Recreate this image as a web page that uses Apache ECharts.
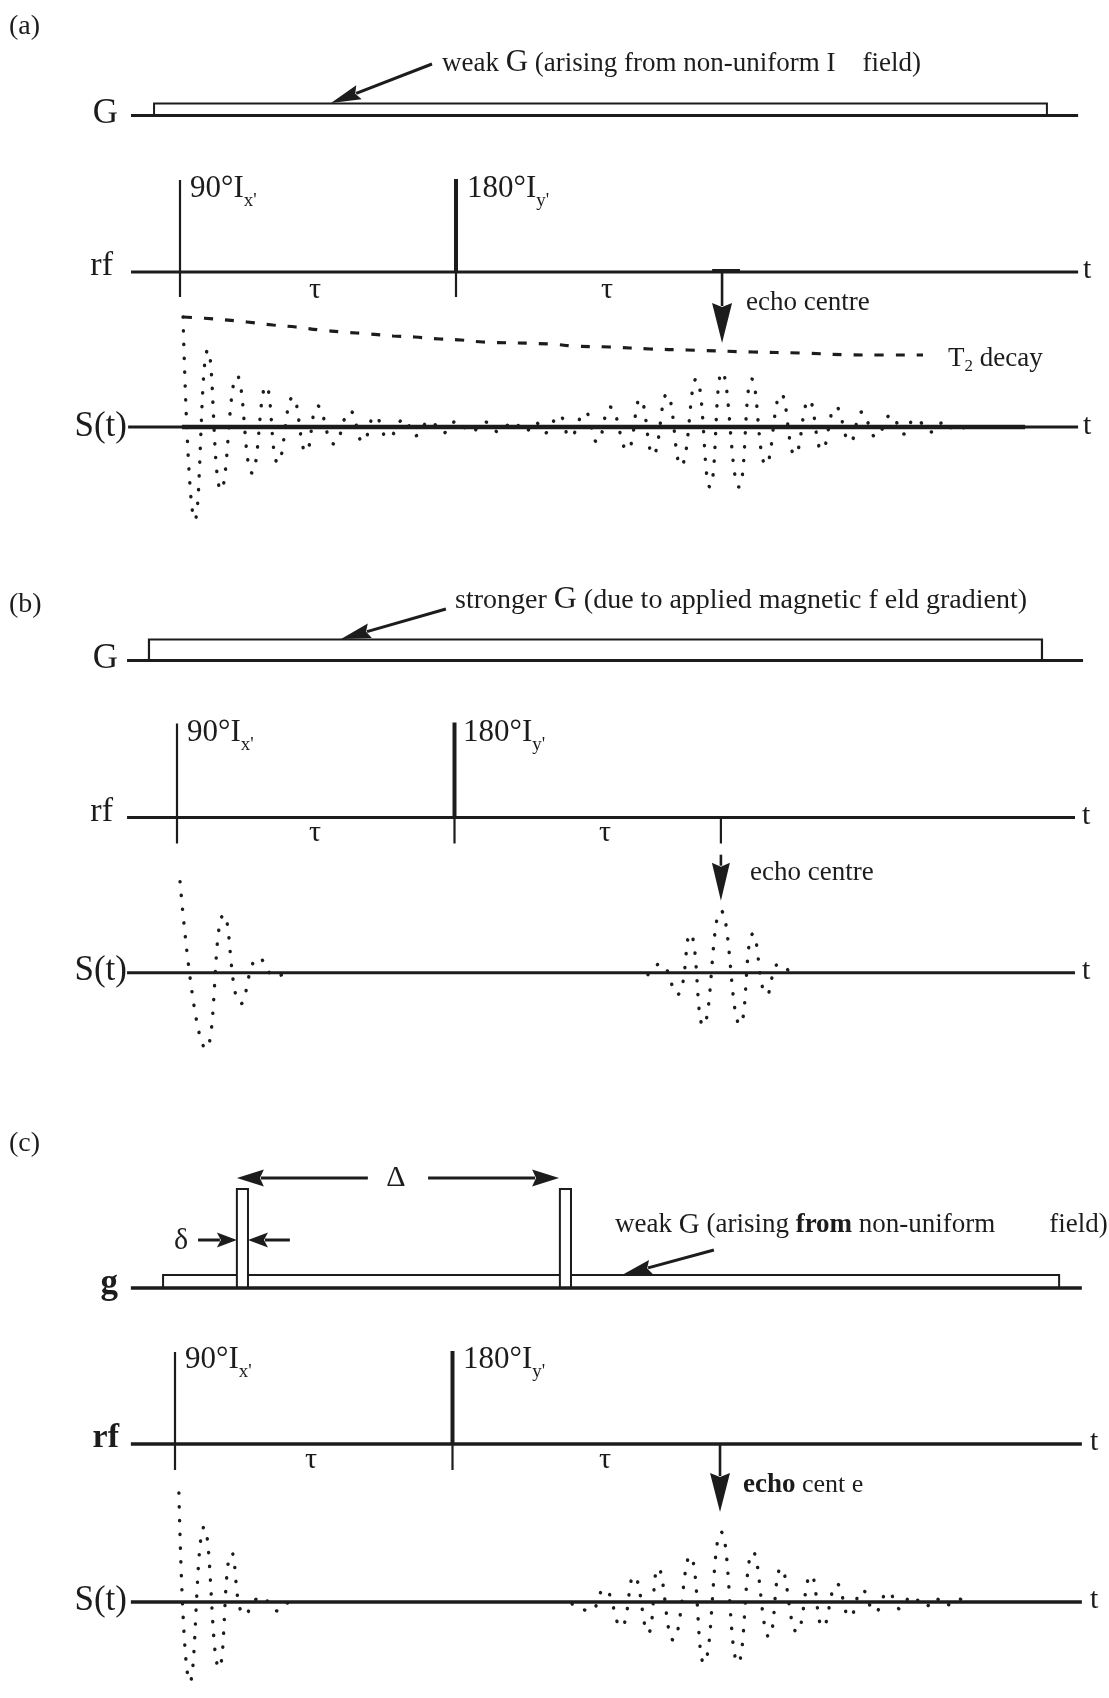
<!DOCTYPE html>
<html><head><meta charset="utf-8">
<script src="https://cdn.jsdelivr.net/npm/echarts@6/dist/echarts.min.js"></script>
<style>html,body{margin:0;padding:0;background:#fff}#chart{width:1109px;height:1698px}</style>
</head><body><div id="chart"></div>
<script>
// ================= DATA =================
// time axis: 90° pulse at t = 0, 180° pulse at t = τ = 100 (arbitrary units); amplitudes in arbitrary units
const rfPulseTimes = [0, 100];                       // 90°x' , 180°y'
const rfPulseHeightA = [92, 93];
const rfPulseHeightB = [94, 95];
const rfPulseHeightC = [92, 93];
const echoTimes = [196.4, 196.0, 196.4];             // echo centre in (a), (b), (c)
// gradient pulses: [on, off, amplitude]
const gradA = [[-9.4, 314.1, 12]];                   // weak G
const gradB = [[-10.1, 311.7, 21]];                  // stronger G
const gradCweak = [[-4.3, 318.6, 13]];               // weak G
const gradCpulses = [[22.3, 26.3, 99], [138.7, 142.7, 99]]; // δ-wide pulses, Δ apart
// T2 decay envelope (a)
const t2Decay = [[1.1,110],[12.7,108],[24.3,105],[33.7,102],[42.0,100],[50.7,97],[59.1,95],[68.8,93],[77.2,91],[85.1,90],[94.2,88],[101.8,87],[109.8,85],[134.4,83],[142.4,81],[155.8,80],[170.3,78],[183.7,77],[207.6,75],[224.6,74],[247.5,72],[269.2,72]];
// S(t) signals (peaks / troughs)
const sigA = [[1.1,110],[5.4,-93],[10.1,77],[14.9,-63],[20.7,51],[26.1,-46],[31.2,41],[35.5,-36],[40.9,30],[45.7,-25],[50.0,21],[55.8,-17],[61.6,16],[66.3,-15],[70.7,11],[75.4,-11],[81.2,8],[85.1,-9],[90.6,6],[95.3,-6],[100.4,6],[105.4,-5],[110.5,5],[115.6,-5],[120.7,5],[125.0,-5],[128.6,5],[132.2,-6],[137.3,12],[141.3,-10],[146.7,15],[151.1,-15],[155.8,20],[162.0,-23],[166.7,28],[171.4,-28],[176.4,33],[181.5,-39],[187.0,48],[192.0,-60],[196.4,55],[202.5,-60],[207.2,48],[212.3,-38],[217.8,33],[222.8,-28],[227.9,27],[232.6,-23],[237.7,20],[242.8,-15],[247.1,15],[252.2,-10],[257.6,12],[262.3,-7],[266.3,8],[272.5,-5],[277.2,6],[280.8,-3],[284.4,0]];
const sigBfid = [[1.1,91],[10.5,-76],[16.9,58],[23.1,-31],[29.5,15],[35.7,-4],[38.9,0]];
const sigBecho = [[169.7,-2],[174.1,9],[180.2,-22],[184.9,39],[189.6,-53],[196.0,62],[202.9,-52],[207.6,39],[212.6,-22],[217.0,9],[221.6,-2]];
const sigCfid = [[1.4,109],[5.4,-80],[10.5,75],[15.9,-66],[20.5,49],[25.2,-13],[31.0,5],[37.1,-9],[40.7,0]];
const sigCecho = [[143.1,-2],[149.5,-9],[154.6,13],[160.7,-25],[165.4,26],[170.5,-31],[174.1,34],[179.5,-38],[185.6,46],[190.6,-61],[196.8,70],[202.9,-61],[208.3,50],[214.1,-35],[218.4,34],[224.1,-30],[229.2,27],[233.5,-25],[238.6,18],[243.2,-15],[247.7,12],[252.3,-10],[257.0,10],[261.3,-7],[265.6,6],[270.3,-5],[273.9,4],[277.5,-4],[281.8,3],[286.5,0]];
// time-line extents [start, end]
const extA = {G:[-17.75,325.4], rf:[-17.75,325.4], S:[-18.8,325.4], Sthick:[0.7,306.2]};
const extB = {G:[-18,326.5], rf:[-18,323.6], S:[-18,323.6]};
const extC = {G:[-15.9,326.8], rf:[-15.9,326.8], S:[-15.9,326.8]};

// ================= LAYOUT =================
const INK = '#1c1c1c';
const W = 1109;
const FONT = '"Liberation Serif", "Times New Roman", serif';
const layout = [
  {x90:180, tauPx:276,   G:115.5, rf:272,   S:427,    ranges:{G:[-20,110], rf:[-40,110], S:[-130,170]}},
  {x90:177, tauPx:277.5, G:660.5, rf:817.5, S:972.7,  ranges:{G:[-20,110], rf:[-40,110], S:[-130,170]}},
  {x90:175, tauPx:277.5, G:1288,  rf:1444,  S:1602,   ranges:{G:[-20,110], rf:[-40,110], S:[-90,165]}}
];
const rows = ['G','rf','S'];
const grid=[], xAxis=[], yAxis=[];
layout.forEach((L,p)=>{
  rows.forEach((r,k)=>{
    const [lo,hi]=L.ranges[r];
    grid.push({left:0, width:W, top:L[r]-hi, height:hi-lo, show:false});
    xAxis.push({type:'value', gridIndex:p*3+k, min:-L.x90/L.tauPx*100, max:(W-L.x90)/L.tauPx*100, show:false});
    yAxis.push({type:'value', gridIndex:p*3+k, min:lo, max:hi, show:false});
  });
});
const gi = (p, r) => p*3 + rows.indexOf(r);

function segs(g, data, width, z){
  return {type:'custom', xAxisIndex:g, yAxisIndex:g, z:z||3, silent:true, clip:false,
    encode:{x:[0,2], y:[1,3]}, data,
    renderItem:(params, api)=>{
      const a=api.coord([api.value(0),api.value(1)]), b=api.coord([api.value(2),api.value(3)]);
      return {type:'line', shape:{x1:a[0],y1:a[1],x2:b[0],y2:b[1]}, style:{stroke:INK, lineWidth:width, lineCap:'butt'}};
    }};
}
function rects(g, data, width, fill, z){
  return {type:'custom', xAxisIndex:g, yAxisIndex:g, z:z||2, silent:true, clip:false,
    encode:{x:[0,1], y:[2]}, data,
    renderItem:(params, api)=>{
      const a=api.coord([api.value(0),0]), b=api.coord([api.value(1),api.value(2)]);
      return {type:'rect', shape:{x:a[0], y:b[1], width:b[0]-a[0], height:a[1]-b[1]}, style:{stroke:INK, lineWidth:width, fill:fill||'none'}};
    }};
}
function arrows(g, data, headLen, headW, lw){
  return {type:'custom', xAxisIndex:g, yAxisIndex:g, z:6, silent:true, clip:false,
    encode:{x:[0,2], y:[1,3]}, data,
    renderItem:(params, api)=>{
      const p1=api.coord([api.value(0),api.value(1)]), p2=api.coord([api.value(2),api.value(3)]);
      const dx=p2[0]-p1[0], dy=p2[1]-p1[1], L=Math.hypot(dx,dy), ux=dx/L, uy=dy/L;
      const bx=p2[0]-ux*headLen, by=p2[1]-uy*headLen, nx=-uy, ny=ux;
      return {type:'group', children:[
        {type:'line', shape:{x1:p1[0],y1:p1[1],x2:bx+ux*3,y2:by+uy*3}, style:{stroke:INK,lineWidth:lw}},
        {type:'polygon', shape:{points:[[p2[0],p2[1]],[bx+nx*headW/2,by+ny*headW/2],[bx+ux*4,by+uy*4],[bx-nx*headW/2,by-ny*headW/2]]}, style:{fill:INK}}
      ]};
    }};
}
function dotted(g, data){
  return {type:'line', xAxisIndex:g, yAxisIndex:g, data, smooth:0.5, symbol:'none', silent:true, z:4,
    lineStyle:{color:INK, width:3.4, type:[0.3,13.5], cap:'round'}};
}
const pulseSeries = (g, heights) => [
  segs(g, [[rfPulseTimes[0],0,rfPulseTimes[0],heights[0]]], 2.2),
  segs(g, [[rfPulseTimes[1],0,rfPulseTimes[1],heights[1]]], 4)
];
const line = (g, ext, w) => segs(g, [[ext[0],0,ext[1],0]], w||3);

const series = [
  // ---- (a)
  rects(gi(0,'G'), gradA, 2),
  line(gi(0,'G'), extA.G),
  line(gi(0,'rf'), extA.rf),
  ...pulseSeries(gi(0,'rf'), rfPulseHeightA),
  segs(gi(0,'rf'), rfPulseTimes.map(t=>[t,0,t,-25]), 2.2),
  segs(gi(0,'rf'), [[echoTimes[0]-3.6,1.5,echoTimes[0]+6.5,1.5]], 3),
  line(gi(0,'S'), extA.S),
  line(gi(0,'S'), extA.Sthick, 4.5),
  dotted(gi(0,'S'), sigA),
  {type:'line', xAxisIndex:gi(0,'S'), yAxisIndex:gi(0,'S'), data:t2Decay, smooth:0.4, symbol:'none', silent:true, z:4,
    lineStyle:{color:INK, width:3.2, type:[9,12]}},
  arrows(gi(0,'S'), [[echoTimes[0],155,echoTimes[0],84]], 40, 20, 2.6),
  arrows(gi(0,'G'), [[91.3,51.5,54.7,12.5]], 30, 15, 3),
  // ---- (b)
  rects(gi(1,'G'), gradB, 2.2),
  line(gi(1,'G'), extB.G),
  line(gi(1,'rf'), extB.rf),
  ...pulseSeries(gi(1,'rf'), rfPulseHeightB),
  segs(gi(1,'rf'), [...rfPulseTimes, echoTimes[1]].map(t=>[t,0,t,-26]), 2.2),
  line(gi(1,'S'), extB.S),
  dotted(gi(1,'S'), sigBfid),
  dotted(gi(1,'S'), sigBecho),
  arrows(gi(1,'S'), [[echoTimes[1],118,echoTimes[1],72]], 38, 18, 2.6),
  arrows(gi(1,'G'), [[96.9,51.5,59.1,21.5]], 30, 15, 3),
  // ---- (c)
  rects(gi(2,'G'), gradCweak, 2, 'none', 1),
  rects(gi(2,'G'), gradCpulses, 2, '#fff', 2),
  line(gi(2,'G'), extC.G, 3.5),
  line(gi(2,'rf'), extC.rf, 3.5),
  ...pulseSeries(gi(2,'rf'), rfPulseHeightC),
  segs(gi(2,'rf'), rfPulseTimes.map(t=>[t,0,t,-26]), 2.2),
  line(gi(2,'S'), extC.S, 3.5),
  dotted(gi(2,'S'), sigCfid),
  dotted(gi(2,'S'), sigCecho),
  arrows(gi(2,'S'), [[echoTimes[2],158,echoTimes[2],90]], 39, 20, 2.6),
  arrows(gi(2,'G'), [[194.2,38,161.1,13]], 30, 15, 3),
  arrows(gi(2,'G'), [[69.5,110,22.3,110],[91.2,110,138.4,110]], 27, 17, 3),
  arrows(gi(2,'G'), [[8.3,48,22.3,48],[41.4,48,26.3,48]], 20, 15, 3)
];

// ================= TEXT =================
const mctx = document.createElement('canvas').getContext('2d');
function tw(str, size, w){ mctx.font = (w||'normal')+' '+size+'px '+FONT; return mctx.measureText(str).width; }
function T(str, x, y, size, o){ o=o||{};
  return {type:'text', x, y, silent:true, z:20, style:{text:str, font:(o.w||'normal')+' '+size+'px '+FONT, fill:INK,
    textAlign:o.a||'left', align:o.a||'left', textVerticalAlign:'middle', verticalAlign:'middle'}}; }
function Sq(x, y, pieces){ const out=[]; let cx=x;
  pieces.forEach(p=>{ const [str,size,w,dy]=p; out.push(T(str,cx,y+(dy||0),size,{w})); cx+=tw(str,size,w); }); return out; }
const pl90 = (x,y)=>Sq(x,y,[['90°I',31],["x'",19,null,12]]);
const pl180 = (x,y)=>Sq(x,y,[['180°I',31],["y'",19,null,12]]);
const texts = [
  // (a)
  T('(a)', 9, 27, 28),
  ...Sq(442, 64, [['weak ',27],['G',31,null,-1],[' (arising from non-uniform I    field)',27]]),
  T('G', 118, 114, 35, {a:'right'}),
  T('rf', 113, 266, 34, {a:'right'}),
  T('t', 1083, 270, 30),
  ...pl90(190, 189), ...pl180(467, 189),
  T('τ', 315, 290, 30, {a:'center'}), T('τ', 607, 290, 30, {a:'center'}),
  T('echo centre', 746, 303, 27),
  ...Sq(948, 359, [['T',27],['2',17,null,8],[' decay',27]]),
  T('S(t)', 127, 427, 35, {a:'right'}),
  T('t', 1083, 426, 30),
  // (b)
  T('(b)', 9, 605, 28),
  ...Sq(455, 601, [['stronger ',28],['G',32,null,-1],[' (due to applied magnetic f eld gradient)',28]]),
  T('G', 118, 659, 35, {a:'right'}),
  T('rf', 113, 812, 34, {a:'right'}),
  T('t', 1082, 816, 30),
  ...pl90(187, 733), ...pl180(463, 733),
  T('τ', 315, 833, 30, {a:'center'}), T('τ', 605, 833, 30, {a:'center'}),
  T('echo centre', 750, 873, 27),
  T('S(t)', 127, 971, 35, {a:'right'}),
  T('t', 1082, 971, 30),
  // (c)
  T('(c)', 9, 1144, 28),
  T('Δ', 396, 1178, 30, {a:'center'}),
  T('δ', 181, 1241, 30, {a:'center'}),
  ...Sq(615, 1225, [['weak ',27],['G',29],[' (arising ',27],['from',27,'bold'],[' non-uniform        field)',27]]),
  T('g', 118, 1284, 35, {a:'right', w:'bold'}),
  T('rf', 119, 1438, 34, {a:'right', w:'bold'}),
  T('t', 1090, 1442, 30),
  ...pl90(185, 1360), ...pl180(463, 1360),
  T('τ', 311, 1460, 30, {a:'center'}), T('τ', 605, 1460, 30, {a:'center'}),
  ...Sq(743, 1485, [['echo',27,'bold'],[' cent e',26]]),
  T('S(t)', 127, 1601, 35, {a:'right'}),
  T('t', 1090, 1600, 30)
];

const chart = echarts.init(document.getElementById('chart'), null, {renderer:'canvas'});
chart.setOption({animation:false, backgroundColor:'#fff', grid, xAxis, yAxis, series, graphic:{elements:texts}});
</script></body></html>
